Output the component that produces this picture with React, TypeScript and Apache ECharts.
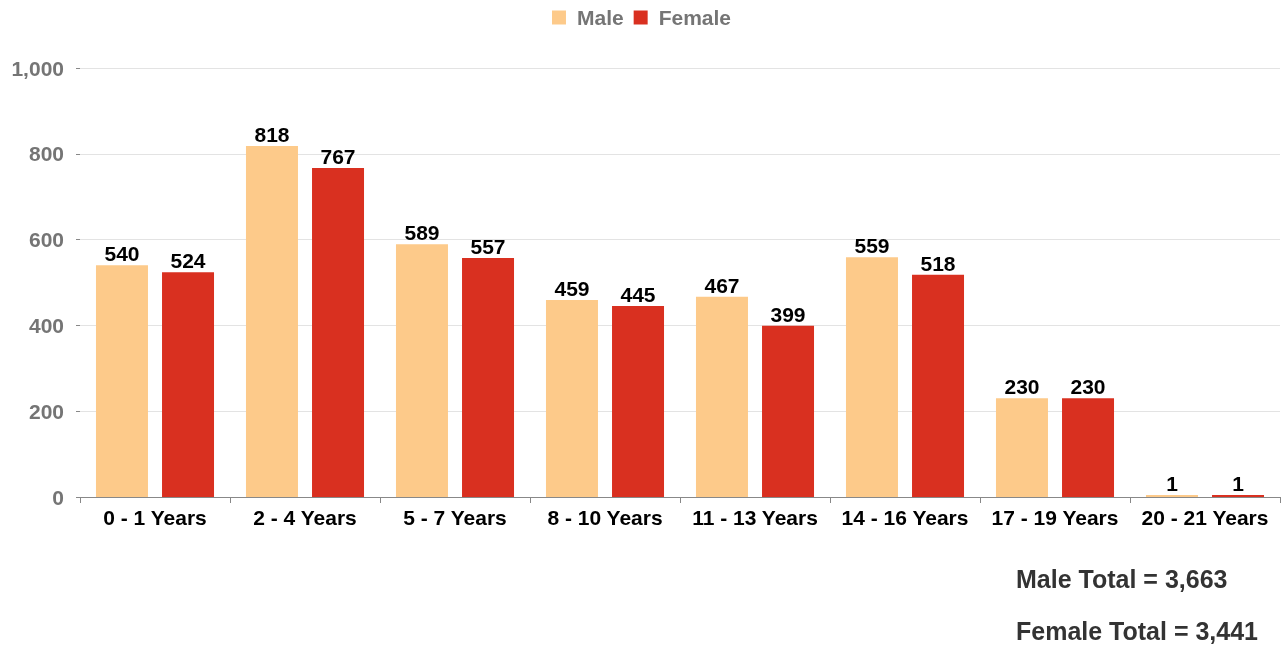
import React, { useEffect, useRef } from "react";
import * as echarts from "echarts";

const categories = ["0 - 1 Years", "2 - 4 Years", "5 - 7 Years", "8 - 10 Years", "11 - 13 Years", "14 - 16 Years", "17 - 19 Years", "20 - 21 Years"];
const maleValues = [540, 818, 589, 459, 467, 559, 230, 1];
const femaleValues = [524, 767, 557, 445, 399, 518, 230, 1];
const totalLines = ["Male Total = 3,663", "Female Total = 3,441"];

const FONT = "Liberation Sans, Arial, sans-serif";

export default function App() {
  const ref = useRef<HTMLDivElement>(null);
  useEffect(() => {
    if (!ref.current) return;
    const chart = echarts.init(ref.current, undefined, { renderer: "svg" });
    const label = {
      show: true,
      position: "top",
      distance: 1,
      color: "#000",
      fontWeight: "bold",
      fontSize: 21,
      fontFamily: FONT,
    };
    chart.setOption({
      animation: false,
      textStyle: { fontFamily: FONT },
      legend: {
        top: 2,
        left: "center",
        itemWidth: 14,
        itemHeight: 14,
        itemGap: 10,
        icon: "rect",
        textStyle: { color: "#757575", fontWeight: "bold", fontSize: 21, fontFamily: FONT, padding: [0, 0, 0, 6] },
        data: ["Male", "Female"],
      },
      grid: { left: 80, right: 3, top: 68, bottom: 150, containLabel: false },
      xAxis: {
        type: "category",
        data: categories,
        axisLine: { lineStyle: { color: "#888", width: 1 } },
        axisTick: { show: true, length: 6, interval: 0, lineStyle: { color: "#888" } },
        axisLabel: { color: "#000", fontWeight: "bold", fontSize: 21, fontFamily: FONT, margin: 10, interval: 0 },
      },
      yAxis: {
        type: "value",
        min: 0,
        max: 1000,
        interval: 200,
        axisLine: { show: false },
        axisTick: { show: true, length: 4, lineStyle: { color: "#888" } },
        axisLabel: {
          color: "#757575",
          fontWeight: "bold",
          fontSize: 21,
          fontFamily: FONT,
          margin: 16,
          formatter: (v: number) => v.toLocaleString("en-US"),
        },
        splitLine: { lineStyle: { color: "#e3e3e3" } },
      },
      series: [
        {
          name: "Male",
          type: "bar",
          data: maleValues,
          barWidth: 52,
          barGap: "27%",
          barMinHeight: 2,
          itemStyle: { color: "#fdca8a" },
          label,
        },
        {
          name: "Female",
          type: "bar",
          data: femaleValues,
          barWidth: 52,
          barMinHeight: 2,
          itemStyle: { color: "#d93020" },
          label,
        },
      ],
      graphic: totalLines.map((t, i) => ({
        type: "text",
        left: 1016,
        top: 566 + i * 52,
        style: { text: t, fill: "#333", font: `bold 25px ${FONT}` },
      })),
    });
    return () => chart.dispose();
  }, []);
  return (
    <div
      ref={ref}
      style={{ position: "fixed", left: 0, top: 0, width: 1283, height: 647 }}
    />
  );
}
